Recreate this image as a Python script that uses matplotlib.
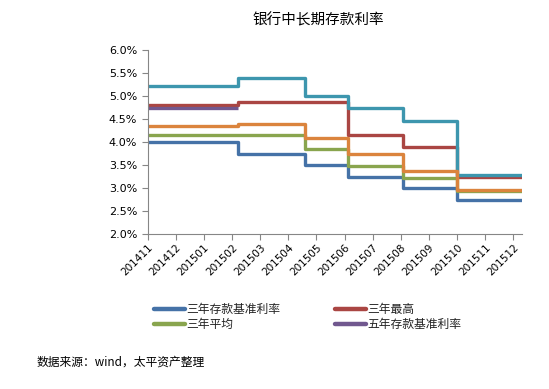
import numpy as np
import matplotlib
matplotlib.use("Agg")
import matplotlib.pyplot as plt
from matplotlib.ticker import FuncFormatter

plt.rcParams['font.family'] = ['Noto Sans CJK SC', 'DejaVu Sans']

# month labels on the category axis
months = ["201411", "201412", "201501", "201502", "201503", "201504", "201505",
          "201506", "201507", "201508", "201509", "201510", "201511", "201512"]

# position (in month-tick units) where each rate regime starts, plus the end of data
change_pos = [0.0, 3.22, 5.59, 7.13, 9.09, 11.0]
end_pos = 13.29

# rates (%) per regime
three_base = [4.00, 3.75, 3.50, 3.25, 3.00, 2.75]
three_high = [4.80, 4.875, 4.875, 4.16, 3.90, 3.25]
three_avg = [4.15, 4.15, 3.85, 3.48, 3.22, 2.93]
five_base = [4.75]                       # abolished after the first cut
five_high = [5.22, 5.40, 5.00, 4.75, 4.45, 3.29]
five_avg = [4.35, 4.39, 4.08, 3.74, 3.37, 2.97]

series = [
    ("三年存款基准利率", three_base, "#4572A7", True),
    ("三年最高", three_high, "#AA4643", True),
    ("三年平均", three_avg, "#89A54E", True),
    ("五年存款基准利率", five_base, "#71588F", True),
    ("五年最高", five_high, "#3D96AE", False),
    ("五年平均", five_avg, "#DB843D", False),
]

fig = plt.figure(figsize=(5.49, 3.89), dpi=100)
ax = fig.add_axes([0.269, 0.3977, 0.681, 0.4738])

handles = []
for name, vals, col, in_legend in series:
    n = len(vals)
    xs = change_pos[:n] + [change_pos[n] if n < len(change_pos) else end_pos]
    ys = list(vals) + [vals[-1]]
    ln, = ax.plot(xs, ys, drawstyle="steps-post", color=col, lw=2.4,
                  solid_joinstyle="round", solid_capstyle="butt")
    if in_legend:
        handles.append((ln, name))

ax.set_xlim(0, end_pos)
ax.set_ylim(2.0, 6.0)
ax.set_yticks(np.arange(2.0, 6.01, 0.5))
ax.yaxis.set_major_formatter(FuncFormatter(lambda v, p: f"{v:.1f}%"))
ax.set_xticks(range(len(months)))
ax.set_xticklabels(months, rotation=45, ha="right", rotation_mode="anchor",
                   fontsize=7.5, family="DejaVu Sans")
for t in ax.get_yticklabels():
    t.set_fontsize(8)
    t.set_family("DejaVu Sans")

for s in ("top", "right"):
    ax.spines[s].set_visible(False)
for s in ("left", "bottom"):
    ax.spines[s].set_color("#868686")
    ax.spines[s].set_linewidth(0.8)
ax.tick_params(axis="both", colors="#868686", labelcolor="black", length=4, width=0.8)
ax.tick_params(axis="x", pad=2)

fig.text(0.58, 0.948, "银行中长期存款利率", ha="center", va="center", fontsize=10.5)

# legend, two columns filled row by row (matplotlib fills column-wise)
order = [0, 2, 1, 3]
leg = fig.legend([handles[i][0] for i in order], [handles[i][1] for i in order],
                 loc="upper left", bbox_to_anchor=(0.272, 0.233), ncol=2,
                 frameon=False, fontsize=8.5, handlelength=2.6, handletextpad=0.15,
                 columnspacing=4.6, labelspacing=0.2, borderaxespad=0)
for line in leg.get_lines():
    line.set_linewidth(3.2)
    line.set_solid_capstyle("round")
for t in leg.get_texts():
    t.set_color("#222222")

fig.text(0.066, 0.068, "数据来源：wind，太平资产整理", ha="left", va="center", fontsize=8.5)

fig.savefig("out.png", dpi=100)
